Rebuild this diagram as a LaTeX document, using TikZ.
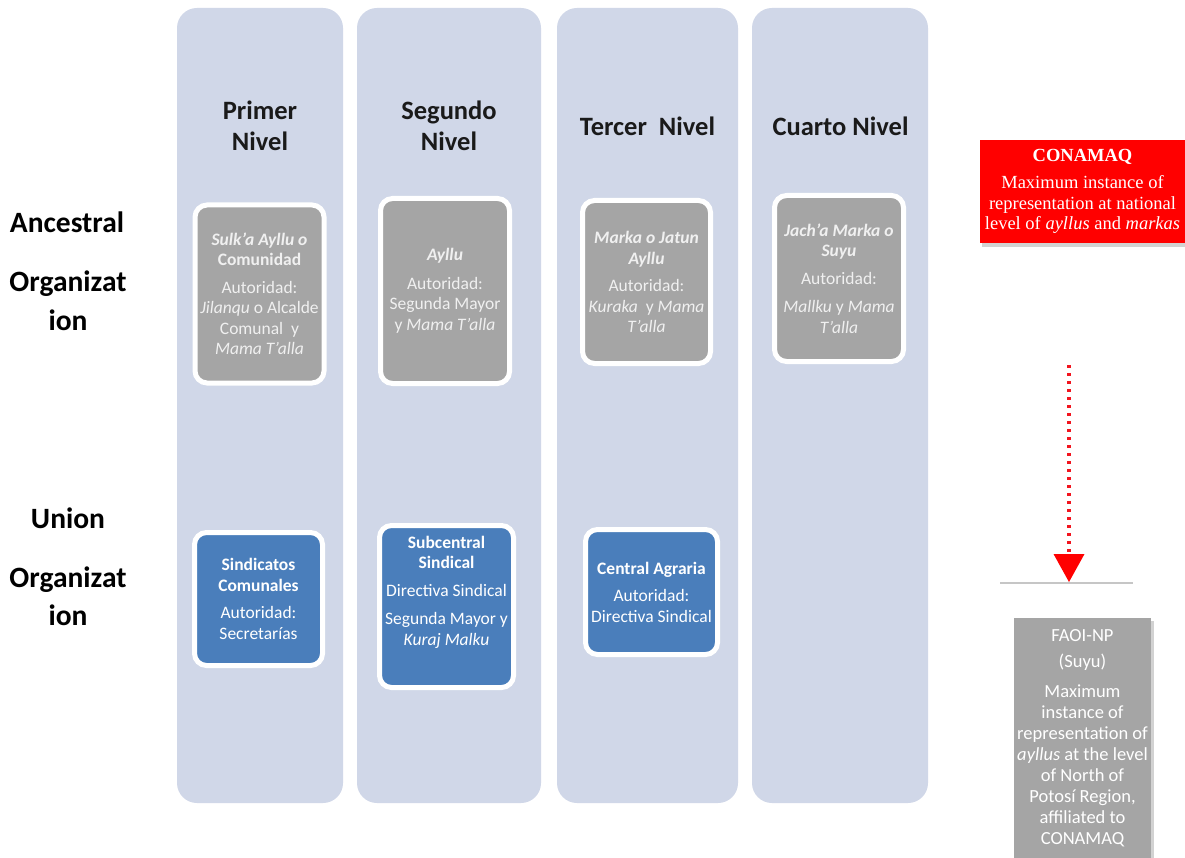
\documentclass[tikz,border=0pt]{standalone}
\usepackage{fontspec}
\setmainfont{Carlito}
\newfontfamily\tnr{Liberation Serif}
\usetikzlibrary{shadows,arrows.meta}
\definecolor{colbg}{HTML}{D0D7E8}
\definecolor{boxgray}{HTML}{A5A5A5}
\definecolor{boxblue}{HTML}{4A7EBB}
\definecolor{lighttext}{HTML}{F0F0F0}
\definecolor{conred}{HTML}{FF0000}
\definecolor{dotred}{HTML}{F2141E}
\definecolor{rulegray}{HTML}{C6C6C6}
\definecolor{headtext}{HTML}{1A1A1A}
\begin{document}
\begin{tikzpicture}[x=1pt,y=-1pt,
  column/.style={fill=colbg, rounded corners=20pt, inner sep=0pt, minimum height=795pt, minimum width=#1},
  header/.style={font=\fontsize{26.5}{31}\selectfont\bfseries, text=headtext, align=center},
  sidelabel/.style={font=\fontsize{29.5}{32}\selectfont\bfseries, text=black, align=center},
  levelbox/.style={draw=white, line width=5pt, rounded corners=12pt, inner sep=0pt, align=center,
     font=\fontsize{17.5}{20.5}\selectfont},
  ancbox/.style={levelbox, fill=boxgray, text=lighttext},
  unionbox/.style={levelbox, fill=boxblue, text=white},
  conbox/.style={fill=conred, text=white, inner sep=0pt, align=center, minimum width=205pt, minimum height=103pt,
     font=\tnr\fontsize{18.5}{20.5}\selectfont, drop shadow={opacity=0.35, shadow xshift=2pt, shadow yshift=-4pt}},
  faoibox/.style={fill=boxgray, text=white, inner sep=0pt, align=center, minimum width=137pt, minimum height=240pt,
     font=\fontsize{18.5}{21}\selectfont, drop shadow={opacity=0.35, shadow xshift=3pt, shadow yshift=-3pt}},
  dotarrow/.style={draw=dotred, line width=3.2pt, dash pattern=on 3pt off 5pt, -{Triangle[width=31pt,length=28pt,fill=conred,line width=0pt]}},
  ruleline/.style={draw=rulegray, line width=2.5pt}
]
\useasboundingbox (0,0) rectangle (1185,858);
\fill[white] (0,0) rectangle (1185,858);

% columns
\node[column=166pt] (c1) at (260,405.5) {};
\node[column=184pt] (c2) at (449,405.5) {};
\node[column=181pt] (c3) at (647.5,405.5) {};
\node[column=176pt] (c4) at (840,405.5) {};

% headers
\node[header] (h1) at (260,125.5) {Primer\\Nivel};
\node[header] (h2) at (449,125.5) {Segundo\\Nivel};
\node[header] (h3) at (647.5,126) {Tercer\ \ Nivel};
\node[header] (h4) at (840.5,126) {Cuarto Nivel};

% side labels
\node[sidelabel] (l1) at (67,222) {Ancestral};
\node[sidelabel] (l2) at (68,284) {Organizat};
\node[sidelabel] (l3) at (68,320) {ion};
\node[sidelabel] (l4) at (68,518) {Union};
\node[sidelabel] (l5) at (68,580) {Organizat};
\node[sidelabel] (l6) at (68,615) {ion};

% ancestral boxes
\node[ancbox, minimum width=129pt, minimum height=178pt] (a1) at (259.5,294)
  {\textbf{\textit{Sulk'a Ayllu o}}\\ \textbf{Comunidad}\\[7pt] Autoridad:\\ \textit{Jilanqu} o Alcalde\\ Comunal\ \ y\\ \textit{Mama T'alla}};
\node[ancbox, minimum width=129pt, minimum height=185pt] (a2) at (445,291)
  {\textbf{\textit{Ayllu}}\\[8pt] Autoridad:\\ Segunda Mayor\\ y \textit{Mama T'alla}};
\node[ancbox, minimum width=128pt, minimum height=163pt] (a3) at (646.5,282)
  {\textbf{\textit{Marka o Jatun}}\\ \textbf{\textit{Ayllu}}\\[7pt] Autoridad:\\ \textit{Kuraka}\ \ y \textit{Mama}\\ \textit{T'alla}};
\node[ancbox, minimum width=129pt, minimum height=166pt] (a4) at (839,278.5)
  {\textbf{\textit{Jach'a Marka o}}\\ \textbf{\textit{Suyu}}\\[7pt] Autoridad:\\[8pt] \textit{Mallku} y \textit{Mama}\\ \textit{T'alla}};

% union boxes
\node[unionbox, minimum width=128pt, minimum height=133pt] (u1) at (258.5,599)
  {\textbf{Sindicatos}\\ \textbf{Comunales}\\[7pt] Autoridad:\\ Secretarías};
\node[unionbox, minimum width=134pt, minimum height=162pt] (u2) at (446.5,606.5) {};
\node[text=white, align=center, inner sep=0pt, font=\fontsize{17.5}{20.5}\selectfont] (u2t) at (446.5,592)
  {\textbf{Subcentral}\\ \textbf{Sindical}\\[7pt] Directiva Sindical\\[8pt] Segunda Mayor y\\ \textit{Kuraj Malku}};
\node[unionbox, minimum width=132pt, minimum height=125pt] (u3) at (651.5,592)
  {\textbf{Central Agraria}\\[7pt] Autoridad:\\ Directiva Sindical};

% CONAMAQ
\node[conbox] (con) at (1082.5,191.5)
  {\textbf{CONAMAQ}\\[7pt] Maximum instance of\\ representation at national\\ level of \textit{ayllus} and \textit{markas}};

% arrow and rule
\coordinate (arrtop) at (1069,365);
\coordinate (ruleL) at (1000,583);
\coordinate (ruleR) at (1133,583);
\coordinate (tip) at (1069,582);
\draw[ruleline] (ruleL) -- (ruleR);
\draw[dotarrow] (arrtop) -- (tip);

% FAOI-NP
\node[faoibox] (faoi) at (1082.5,738)
  {FAOI-NP\\[5pt] (Suyu)\\[9pt] Maximum\\ instance of\\ representation of\\ \textit{ayllus} at the level\\ of North of\\ Potosí Region,\\ affiliated to\\ CONAMAQ};
\end{tikzpicture}
\end{document}
